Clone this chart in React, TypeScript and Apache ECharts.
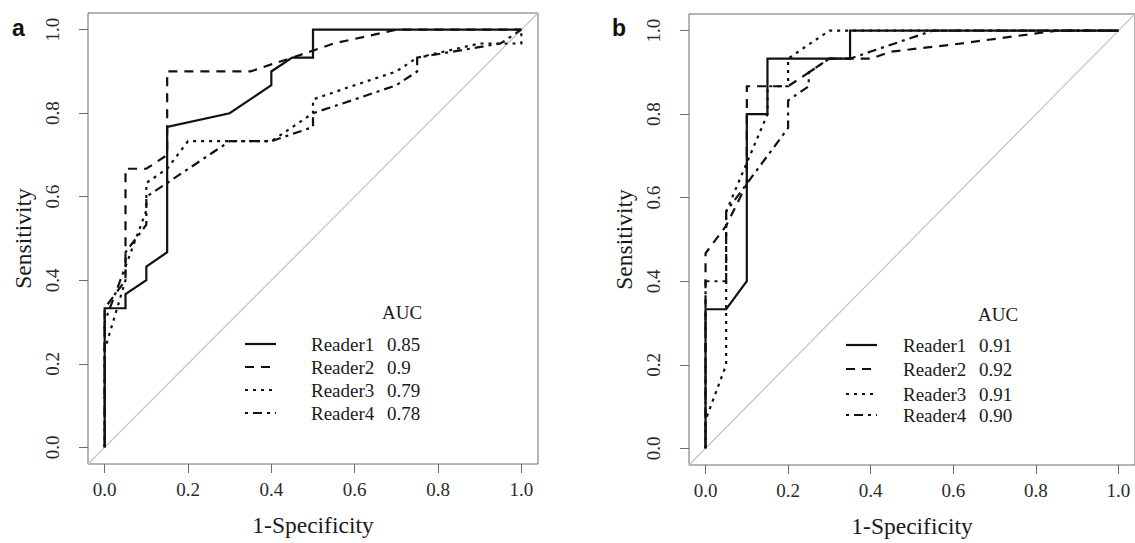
import React, { useEffect, useRef } from "react";
import * as echarts from "echarts";

// ---------- data ----------
const xTicks = [0, 0.2, 0.4, 0.6, 0.8, 1.0];
const yTicks = [0, 0.2, 0.4, 0.6, 0.8, 1.0];
const readers = ["Reader1", "Reader2", "Reader3", "Reader4"];
const aucA = ["0.85", "0.9", "0.79", "0.78"];
const aucB = ["0.91", "0.92", "0.91", "0.90"];
const panelLetters = ["a", "b"];
const diagonal = [[-0.04, -0.04], [1.04, 1.04]];

const aReader1 = [[0, 0], [0, 0.333], [0.05, 0.333], [0.05, 0.367], [0.1, 0.4], [0.1, 0.433], [0.15, 0.467], [0.15, 0.767], [0.3, 0.8], [0.4, 0.867], [0.4, 0.9], [0.45, 0.933], [0.5, 0.933], [0.5, 1], [1, 1]];
const aReader2 = [[0, 0], [0, 0.333], [0.05, 0.4], [0.05, 0.667], [0.1, 0.667], [0.15, 0.7], [0.15, 0.9], [0.35, 0.9], [0.4, 0.917], [0.45, 0.933], [0.55, 0.967], [0.7, 1], [1, 1]];
const aReader3 = [[0, 0], [0, 0.233], [0.05, 0.4], [0.05, 0.433], [0.1, 0.567], [0.1, 0.633], [0.15, 0.667], [0.2, 0.733], [0.4, 0.733], [0.5, 0.8], [0.5, 0.833], [0.6, 0.867], [0.7, 0.9], [0.75, 0.933], [0.9, 0.967], [1, 0.967], [1, 1]];
const aReader4 = [[0, 0], [0, 0.3], [0.05, 0.433], [0.05, 0.467], [0.1, 0.533], [0.1, 0.6], [0.15, 0.633], [0.3, 0.733], [0.4, 0.733], [0.5, 0.767], [0.5, 0.8], [0.6, 0.833], [0.7, 0.867], [0.75, 0.9], [0.75, 0.933], [0.85, 0.95], [0.95, 0.967], [1, 1]];

const bReader1 = [[0, 0], [0, 0.333], [0.05, 0.333], [0.1, 0.4], [0.1, 0.8], [0.15, 0.8], [0.15, 0.933], [0.35, 0.933], [0.35, 1], [1, 1]];
const bReader2 = [[0, 0], [0, 0.467], [0.05, 0.533], [0.1, 0.633], [0.1, 0.867], [0.2, 0.867], [0.25, 0.9], [0.3, 0.933], [0.4, 0.933], [0.45, 0.95], [0.6, 0.967], [0.85, 1], [1, 1]];
const bReader3 = [[0, 0], [0, 0.067], [0.05, 0.2], [0.05, 0.567], [0.15, 0.8], [0.15, 0.867], [0.2, 0.867], [0.2, 0.933], [0.25, 0.967], [0.3, 1], [1, 1]];
const bReader4 = [[0, 0], [0, 0.4], [0.05, 0.4], [0.05, 0.567], [0.2, 0.767], [0.2, 0.833], [0.25, 0.867], [0.25, 0.9], [0.3, 0.933], [0.35, 0.933], [0.4, 0.95], [0.55, 1], [1, 1]];

const panelCurves = [
  [aReader1, aReader2, aReader3, aReader4],
  [bReader1, bReader2, bReader3, bReader4],
];
const panelAuc = [aucA, aucB];

// ---------- styles ----------
const SERIF = "'Liberation Serif', 'Times New Roman', serif";
const SANS = "'Liberation Sans', Arial, sans-serif";
const INK = "#111";
const BOX = "#6b6b6b";
const LW = 2.2;
const dashTypes: any[] = ["solid", [9, 7], [3, 5], [3, 5, 9, 5]];

const grids = [
  { left: 88, top: 13, width: 450, height: 451 },
  { left: 689, top: 14, width: 450, height: 452 },
];
const legendLayout = [
  { lineX: 245, nameX: 311, valX: 387, aucX: 382, aucY: 312, rows: [344, 367, 390, 413] },
  { lineX: 846, nameX: 903, valX: 979, aucX: 978, aucY: 314, rows: [345, 369, 394, 415] },
];
const letterPos = [{ x: 12, y: 28 }, { x: 612, y: 28 }];

export default function App() {
  const ref = useRef<HTMLDivElement>(null);

  useEffect(() => {
    if (!ref.current) return;
    const chart = echarts.init(ref.current, undefined, { renderer: "svg" });

    const xAxis = grids.map((_, i) => ({
      type: "value",
      gridIndex: i,
      min: -0.04,
      max: 1.04,
      splitLine: { show: false },
      axisLine: { show: false, onZero: false },
      axisTick: { show: true, customValues: xTicks, length: 9, lineStyle: { color: BOX } },
      axisLabel: {
        customValues: xTicks,
        formatter: (v: number) => v.toFixed(1),
        fontSize: 19,
        fontFamily: SERIF,
        color: "#2a2a2a",
        margin: 16,
      },
      name: "1-Specificity",
      nameLocation: "middle",
      nameGap: 49,
      nameTextStyle: { fontSize: 23.5, fontFamily: SERIF, color: "#1a1a1a" },
    }));

    const yAxis = grids.map((_, i) => ({
      type: "value",
      gridIndex: i,
      min: -0.04,
      max: 1.04,
      splitLine: { show: false },
      axisLine: { show: false, onZero: false },
      axisTick: { show: true, customValues: yTicks, length: 9, lineStyle: { color: BOX } },
      axisLabel: {
        customValues: yTicks,
        formatter: (v: number) => v.toFixed(1),
        fontSize: 19,
        fontFamily: SERIF,
        color: "#2a2a2a",
        margin: 26,
        rotate: 90,
      },
      name: "Sensitivity",
      nameLocation: "middle",
      nameGap: 53,
      nameTextStyle: { fontSize: 23.5, fontFamily: SERIF, color: "#1a1a1a" },
    }));

    const series: any[] = [];
    panelCurves.forEach((curves, p) => {
      series.push({
        type: "line",
        name: "diag" + p,
        xAxisIndex: p,
        yAxisIndex: p,
        data: diagonal,
        symbol: "none",
        silent: true,
        z: 1,
        lineStyle: { color: "#c4c4c4", width: 1.2 },
      });
      curves.forEach((data, r) => {
        series.push({
          type: "line",
          name: readers[r],
          xAxisIndex: p,
          yAxisIndex: p,
          data,
          symbol: "none",
          z: 3,
          lineStyle: { color: INK, width: LW, type: dashTypes[r], cap: "butt", join: "miter" },
        });
      });
    });

    const txt = (text: string, x: number, y: number) => ({
      type: "text",
      x,
      y,
      style: { text, fontSize: 19, fontFamily: SERIF, fill: "#1a1a1a", textAlign: "left", textVerticalAlign: "middle" },
    });

    const graphic: any[] = [];
    legendLayout.forEach((L, p) => {
      graphic.push(txt("AUC", L.aucX, L.aucY));
      readers.forEach((name, r) => {
        const y = L.rows[r];
        graphic.push({
          type: "line",
          shape: { x1: L.lineX, y1: y, x2: L.lineX + 31, y2: y },
          style: { stroke: INK, lineWidth: LW, lineDash: r === 0 ? null : dashTypes[r] },
        });
        graphic.push(txt(name, L.nameX, y));
        graphic.push(txt(panelAuc[p][r], L.valX, y));
      });
    });
    panelLetters.forEach((t, p) => {
      graphic.push({
        type: "text",
        x: letterPos[p].x,
        y: letterPos[p].y,
        style: { text: t, fontSize: 23, fontWeight: "bold", fontFamily: SANS, fill: "#111", textAlign: "left", textVerticalAlign: "middle" },
      });
    });

    chart.setOption({
      animation: false,
      backgroundColor: "#fff",
      grid: grids.map((g) => ({ ...g, show: true, borderColor: BOX, borderWidth: 1, backgroundColor: "transparent" })),
      xAxis,
      yAxis,
      series,
      graphic,
    });

    return () => chart.dispose();
  }, []);

  return <div ref={ref} style={{ position: "absolute", left: 0, top: 0, width: 1135, height: 543 }} />;
}
